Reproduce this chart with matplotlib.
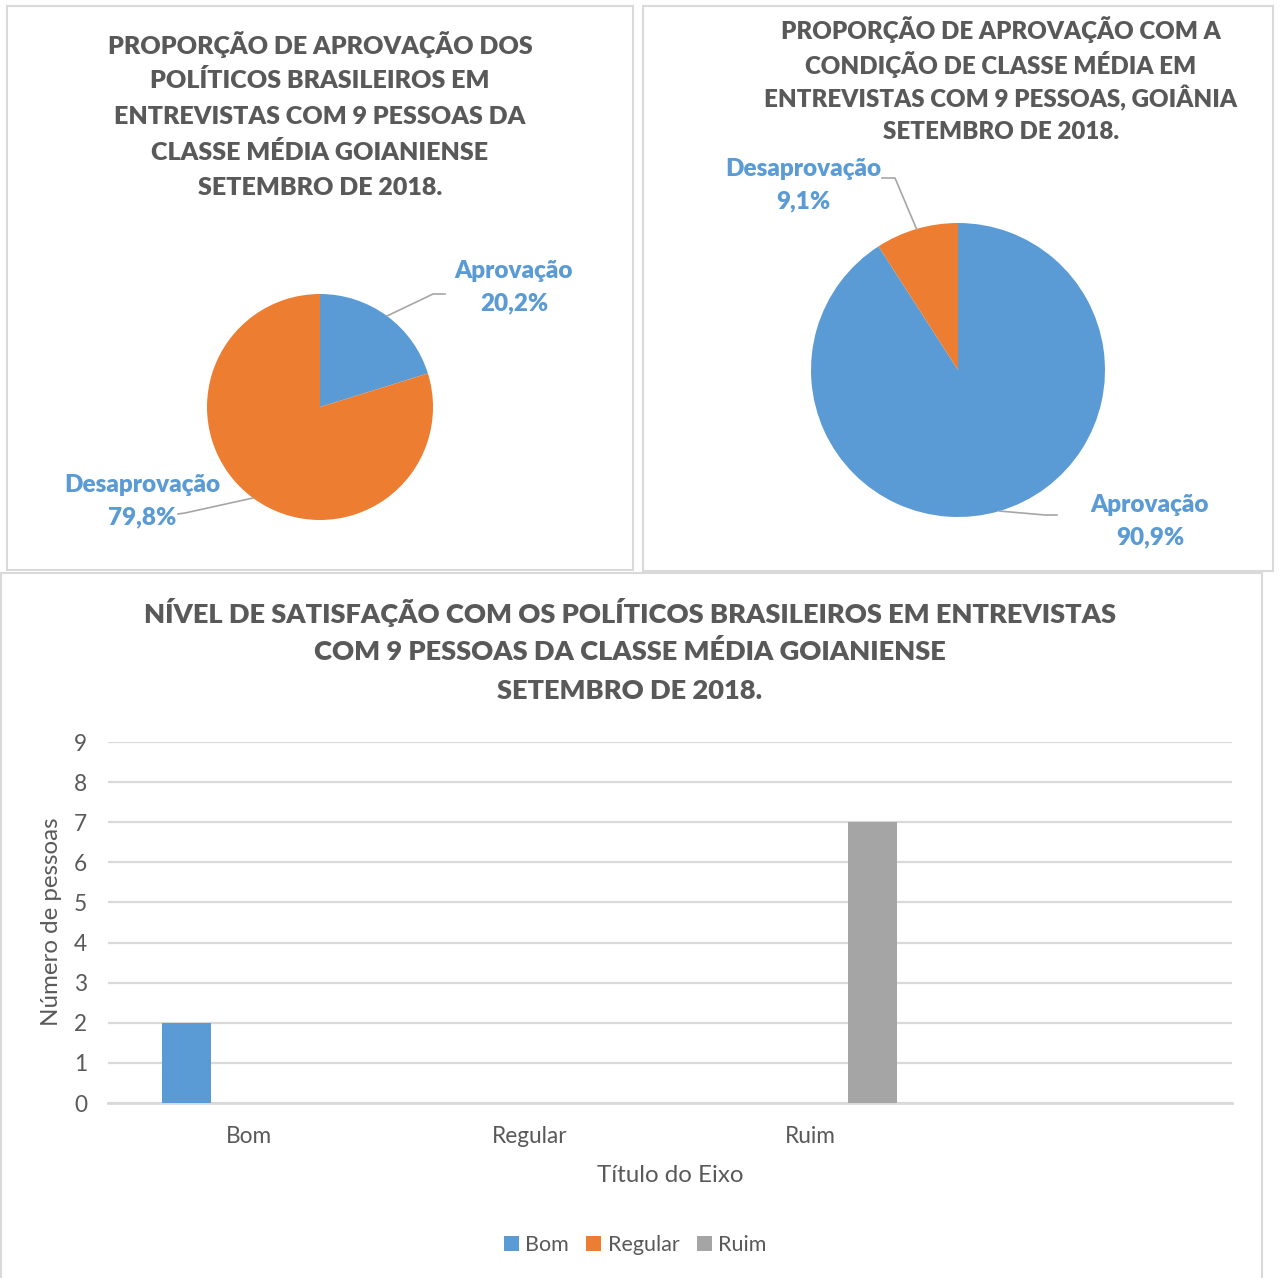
import numpy as np
import matplotlib
matplotlib.use("Agg")
import matplotlib.pyplot as plt
from matplotlib.patches import Rectangle
from matplotlib.lines import Line2D

plt.rcParams['font.family'] = ['Lato', 'DejaVu Sans']

# dados
pie1_labels = ['Aprovação', 'Desaprovação']
pie1_values = [20.2, 79.8]
pie2_labels = ['Aprovação', 'Desaprovação']
pie2_values = [90.9, 9.1]

categorias = ['Bom', 'Regular', 'Ruim', '']
series_nomes = ['Bom', 'Regular', 'Ruim']
bom = [2, 0, 0, 0]
regular = [0, 0, 0, 0]
ruim = [0, 0, 7, 0]

AZUL = '#5B9BD5'
LARANJA = '#ED7D31'
CINZA = '#A5A5A5'
TXT = '#595959'
GRADE = '#D9D9D9'
LIDER = '#A6A6A6'

W, H = 1280, 1278
fig = plt.figure(figsize=(W / 100, H / 100), dpi=100)


def fx(px):
    return px / W


def fy(py):
    return 1 - py / H


# molduras dos graficos
for (x0, y0, x1, y1) in [(7, 6, 633, 570), (643, 6, 1273, 571), (1, 573, 1262, 1290)]:
    fig.patches.append(Rectangle((fx(x0), fy(y1)), fx(x1 - x0), (y1 - y0) / H,
                                 transform=fig.transFigure, fill=False,
                                 edgecolor=GRADE, linewidth=1.5))


def pizza(cx, cy, r, valores, rotulos, titulo, tit_x, tit_y, tit_esp, tit_fs, posicoes):
    ax = fig.add_axes([fx(cx - r), fy(cy + r), 2 * r / W, 2 * r / H])
    wedges, _ = ax.pie(valores, colors=[AZUL, LARANJA], startangle=90,
                       counterclock=False, radius=1)
    ax.set_xlim(-1, 1)
    ax.set_ylim(-1, 1)
    ax.set_axis_off()
    for i, linha in enumerate(titulo):
        fig.text(fx(tit_x), fy(tit_y + i * tit_esp), linha, ha='center', va='center',
                 fontsize=tit_fs, fontweight='heavy', color=TXT)
    for w, lab, val, pos in zip(wedges, rotulos, valores, posicoes):
        ang = np.deg2rad((w.theta1 + w.theta2) / 2)
        (tx, ty), (ex, ey), (fx_, fy_) = pos
        xs = [np.cos(ang), (ex - cx) / r, (fx_ - cx) / r]
        ys = [np.sin(ang), (cy - ey) / r, (cy - fy_) / r]
        ax.add_line(Line2D(xs, ys, color=LIDER, linewidth=1.2, clip_on=False))
        txt = lab + '\n' + ('%.1f%%' % val).replace('.', ',')
        fig.text(fx(tx), fy(ty), txt, ha='center', va='center', fontsize=17.5,
                 fontweight='heavy', color=AZUL, linespacing=1.55)


pizza(320, 407, 113, pie1_values, pie1_labels,
      ['PROPORÇÃO DE APROVAÇÃO DOS', 'POLÍTICOS BRASILEIROS EM',
       'ENTREVISTAS COM 9 PESSOAS DA', 'CLASSE MÉDIA GOIANIENSE',
       'SETEMBRO DE 2018.'], 320, 45, 35.8, 18,
      [((514, 287), (433, 294), (445, 294)),
       ((142, 501), (185, 513), (178, 514))])

pizza(958, 370, 147, pie2_values, pie2_labels,
      ['PROPORÇÃO DE APROVAÇÃO COM A', 'CONDIÇÃO DE CLASSE MÉDIA EM',
       'ENTREVISTAS COM 9 PESSOAS, GOIÂNIA', 'SETEMBRO DE 2018.'],
      1001, 30, 34, 17.4,
      [((1150, 521), (1045, 515), (1057, 515)),
       ((803, 185), (895, 178), (882, 178))])

# grafico de barras
ax = fig.add_axes([fx(108), fy(1103), fx(1232 - 108), (1103 - 742) / H])
x = np.arange(len(categorias))
larg = 0.176
desloc = 0.22
for k, (vals, nome, cor) in enumerate(zip([bom, regular, ruim], series_nomes,
                                         [AZUL, LARANJA, CINZA])):
    ax.bar(x + (k - 1) * desloc, vals, larg, color=cor, label=nome, zorder=3)
ax.set_xlim(-0.5, len(categorias) - 0.5)
ax.set_ylim(0, 9)
ax.set_yticks(range(0, 10))
ax.set_xticks(x)
ax.set_xticklabels(categorias)
ax.grid(axis='y', color=GRADE, linewidth=1.6, zorder=0)
for s in ['top', 'right', 'left']:
    ax.spines[s].set_visible(False)
ax.spines['bottom'].set_color(GRADE)
ax.spines['bottom'].set_linewidth(2)
ax.tick_params(axis='both', length=0, labelsize=16.3, labelcolor=TXT)
ax.tick_params(axis='y', pad=15)
ax.tick_params(axis='x', pad=16.5)
ax.set_xlabel('Título do Eixo', fontsize=17.4, color=TXT)
ax.set_ylabel('Número de pessoas', fontsize=17.4, color=TXT)
ax.xaxis.set_label_coords(0.5, -(1165 - 1103) / 361)
ax.yaxis.set_label_coords((62 - 108) / 1124, (1103 - 922) / 361)

tit = ['NÍVEL DE SATISFAÇÃO COM OS POLÍTICOS BRASILEIROS EM ENTREVISTAS',
       'COM 9 PESSOAS DA CLASSE MÉDIA GOIANIENSE', 'SETEMBRO DE 2018.']
for i, linha in enumerate(tit):
    fig.text(fx(630), fy(613 + i * 39), linha, ha='center', va='center',
             fontsize=19.6, fontweight='heavy', color=TXT)

fig.legend(loc='center', bbox_to_anchor=(fx(635), fy(1245)), ncol=3, frameon=False,
           fontsize=15.5, labelcolor=TXT, handlelength=0.7, handleheight=0.7,
           columnspacing=0.8, handletextpad=0.3)

fig.savefig('out.png', dpi=100)
